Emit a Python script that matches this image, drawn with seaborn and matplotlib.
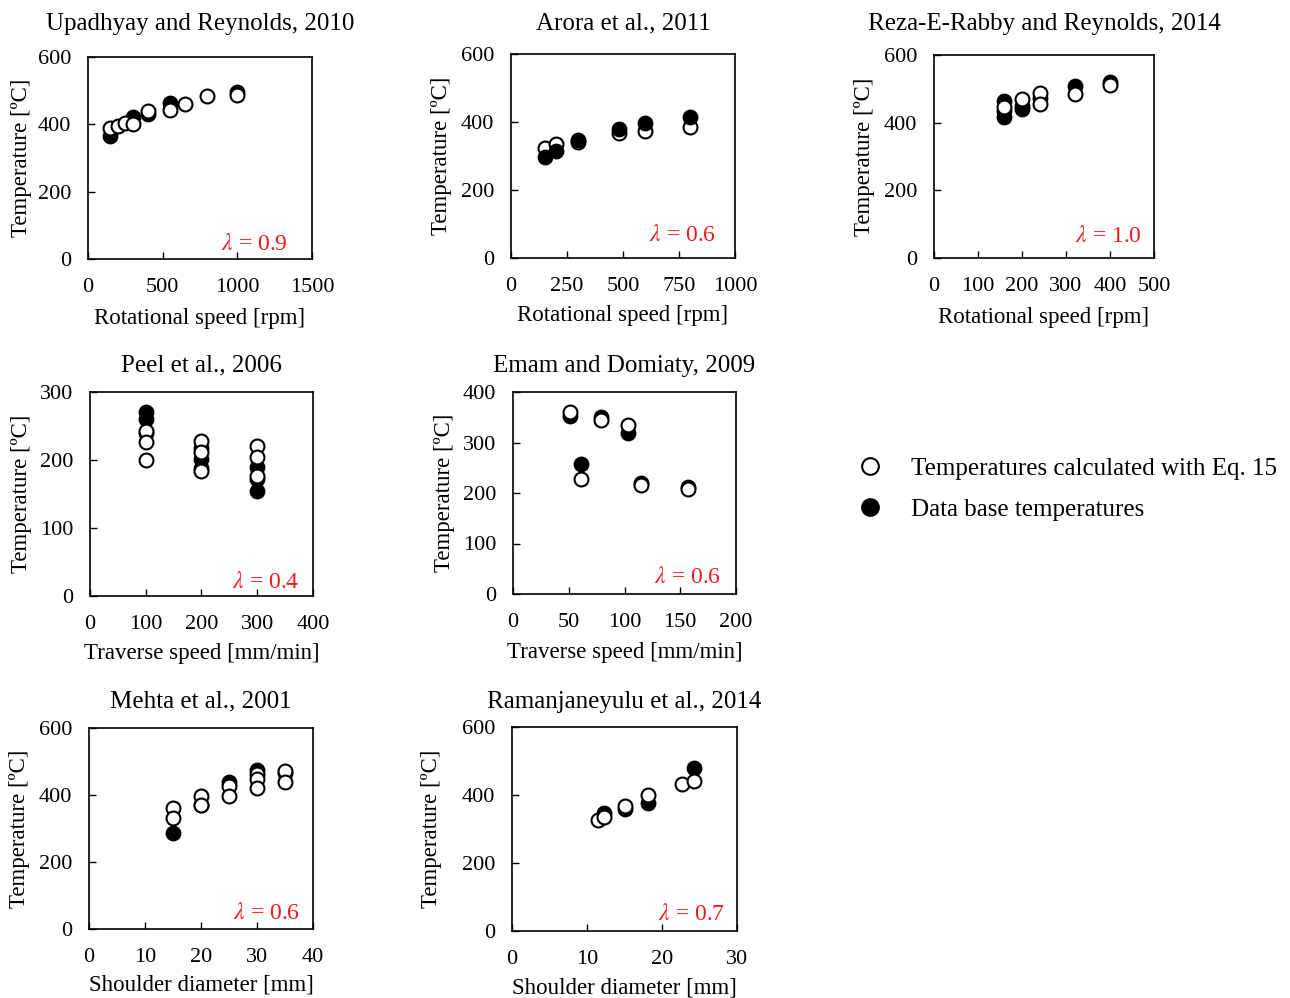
import matplotlib
matplotlib.use("Agg")
import matplotlib.pyplot as plt
from matplotlib.lines import Line2D
import seaborn as sns
import pandas as pd

# ---------------- data ----------------
# Upadhyay and Reynolds, 2010
p1_calc_x = [150, 200, 250, 300, 400, 550, 650, 800, 1000]
p1_calc_t = [388, 395, 405, 402, 439, 444, 461, 483, 486]
p1_db_x = [150, 300, 400, 550, 1000]
p1_db_t = [366, 422, 430, 463, 496]

# Arora et al., 2011
p2_calc_x = [150, 200, 300, 480, 600, 800]
p2_calc_t = [324, 335, 340, 367, 373, 384]
p2_db_x = [150, 200, 300, 480, 600, 800]
p2_db_t = [296, 315, 347, 379, 396, 416]

# Reza-E-Rabby and Reynolds, 2014
p3_calc_x = [160, 200, 240, 240, 320, 400]
p3_calc_t = [446, 470, 488, 454, 485, 510]
p3_db_x = [160, 160, 160, 200, 200, 240, 320, 400]
p3_db_t = [465, 434, 416, 449, 439, 473, 507, 520]

# Peel et al., 2006
p4_calc_x = [100, 100, 100, 200, 200, 200, 300, 300, 300]
p4_calc_t = [242, 227, 200, 228, 212, 184, 220, 204, 176]
p4_db_x = [100, 100, 100, 200, 200, 200, 300, 300, 300]
p4_db_t = [271, 260, 240, 218, 202, 188, 190, 172, 155]

# Emam and Domiaty, 2009
p5_calc_x = [51, 79, 103, 61, 115, 157]
p5_calc_t = [360, 345, 334, 228, 215, 208]
p5_db_x = [51, 79, 103, 61, 115, 157]
p5_db_t = [353, 350, 319, 258, 220, 211]

# Mehta et al., 2001
p6_calc_x = [15, 15, 20, 20, 25, 25, 30, 30, 30, 35, 35]
p6_calc_t = [360, 332, 397, 370, 426, 397, 464, 447, 420, 472, 439]
p6_db_x = [15, 20, 25, 30, 35]
p6_db_t = [288, 370, 439, 474, 467]

# Ramanjaneyulu et al., 2014
p7_calc_x = [11.5, 12.2, 15.1, 18.1, 22.7, 24.2]
p7_calc_t = [327, 335, 368, 400, 431, 441]
p7_db_x = [12.2, 15.1, 18.1, 24.2]
p7_db_t = [346, 358, 377, 480]

titles = ["Upadhyay and Reynolds, 2010", "Arora et al., 2011",
          "Reza-E-Rabby and Reynolds, 2014", "Peel et al., 2006",
          "Emam and Domiaty, 2009", "Mehta et al., 2001",
          "Ramanjaneyulu et al., 2014"]
xlabels = ["Rotational speed [rpm]", "Rotational speed [rpm]",
           "Rotational speed [rpm]", "Traverse speed [mm/min]",
           "Traverse speed [mm/min]", "Shoulder diameter [mm]",
           "Shoulder diameter [mm]"]
ylabel = "Temperature [ºC]"
lambdas = ["0.9", "0.6", "1.0", "0.4", "0.6", "0.6", "0.7"]
xticks = [[0, 500, 1000, 1500], [0, 250, 500, 750, 1000],
          [0, 100, 200, 300, 400, 500], [0, 100, 200, 300, 400],
          [0, 50, 100, 150, 200], [0, 10, 20, 30, 40], [0, 10, 20, 30]]
yticks = [[0, 200, 400, 600], [0, 200, 400, 600], [0, 200, 400, 600],
          [0, 100, 200, 300], [0, 100, 200, 300, 400],
          [0, 200, 400, 600], [0, 200, 400, 600]]
legend_labels = ["Temperatures calculated with Eq. 15",
                 "Data base temperatures"]

panels = [
    (p1_calc_x, p1_calc_t, p1_db_x, p1_db_t),
    (p2_calc_x, p2_calc_t, p2_db_x, p2_db_t),
    (p3_calc_x, p3_calc_t, p3_db_x, p3_db_t),
    (p4_calc_x, p4_calc_t, p4_db_x, p4_db_t),
    (p5_calc_x, p5_calc_t, p5_db_x, p5_db_t),
    (p6_calc_x, p6_calc_t, p6_db_x, p6_db_t),
    (p7_calc_x, p7_calc_t, p7_db_x, p7_db_t),
]

# ---------------- layout (pixel boxes: left, right, top, bottom) ----------------
W, H = 1290, 998
boxes = [(88, 312, 57, 259), (511, 735, 54, 258), (934, 1154, 55, 258),
         (90, 313, 392, 596), (513, 736, 392, 594),
         (89, 313, 728, 929), (512, 737, 727, 931)]
title_pad = [19.5, 17.5, 18, 14.5, 14.5, 14.5, 13.5]
ylab_x = [-0.25, -0.263, -0.268, -0.26, -0.26, -0.263, -0.31]
xlab_y = [-0.245, -0.232, -0.243, -0.228, -0.236, -0.225, -0.228]
lam_pos = [(0.893, 0.045), (0.915, 0.083), (0.945, 0.079), (0.94, 0.04),
           (0.933, 0.054), (0.94, 0.05), (0.948, 0.054)]
db_on_top = [False, True, False, False, False, False, False]

INK = "black"
sns.set_style("ticks", {"xtick.direction": "in", "ytick.direction": "in",
                        "axes.edgecolor": INK, "text.color": INK,
                        "axes.labelcolor": INK, "xtick.color": INK,
                        "ytick.color": INK})
plt.rcParams["font.family"] = ["Liberation Serif", "DejaVu Serif"]
plt.rcParams["mathtext.fontset"] = "stix"

fig = plt.figure(figsize=(W / 100, H / 100), dpi=100)

MS = 100
for i, (cx, ct, dx, dt) in enumerate(panels):
    l, r, t, b = boxes[i]
    ax = fig.add_axes([l / W, 1 - b / H, (r - l) / W, (b - t) / H])
    calc = pd.DataFrame({"x": cx, "T": ct})
    db = pd.DataFrame({"x": dx, "T": dt})
    z_db, z_calc = (4, 3) if db_on_top[i] else (3, 4)
    sns.scatterplot(data=db, x="x", y="T", ax=ax, color="black",
                    edgecolor="black", s=MS, linewidth=1.4, zorder=z_db,
                    legend=False)
    sns.scatterplot(data=calc, x="x", y="T", ax=ax, color="white",
                    edgecolor="black", s=MS, linewidth=1.5, zorder=z_calc,
                    legend=False)
    ax.set_xlim(xticks[i][0], xticks[i][-1])
    ax.set_ylim(yticks[i][0], yticks[i][-1])
    ax.set_xticks(xticks[i])
    ax.set_yticks(yticks[i])
    ax.tick_params(axis="both", which="major", labelsize=16, length=5,
                   width=1.0, color=INK, labelcolor=INK, direction="in")
    ax.tick_params(axis="x", pad=14)
    ax.tick_params(axis="y", pad=12)
    for sp in ax.spines.values():
        sp.set_linewidth(1.2)
        sp.set_color(INK)
    ax.set_title(titles[i], fontsize=18, pad=title_pad[i], color=INK)
    ax.set_xlabel(xlabels[i], fontsize=16.5, color=INK)
    ax.set_ylabel(ylabel, fontsize=16.5, color=INK)
    ax.yaxis.set_label_coords(ylab_x[i], 0.5)
    ax.xaxis.set_label_coords(0.5, xlab_y[i])
    lx, ly = lam_pos[i]
    ax.text(lx, ly, r"$\lambda$ = " + lambdas[i], transform=ax.transAxes,
            ha="right", va="baseline", color="#ee1c1c", fontsize=17)

handles = [
    Line2D([], [], marker="o", ls="", mfc="white", mec="black", ms=12, mew=1.5),
    Line2D([], [], marker="o", ls="", mfc="black", mec="black", ms=12, mew=1.5),
]
fig.legend(handles, legend_labels, loc="center left",
           bbox_to_anchor=(857 / W, 1 - 489 / H), frameon=False,
           fontsize=18, handlelength=1.0, handletextpad=1.15,
           labelspacing=0.75, borderpad=0, borderaxespad=0, labelcolor=INK)

fig.savefig("out.png", dpi=100)
